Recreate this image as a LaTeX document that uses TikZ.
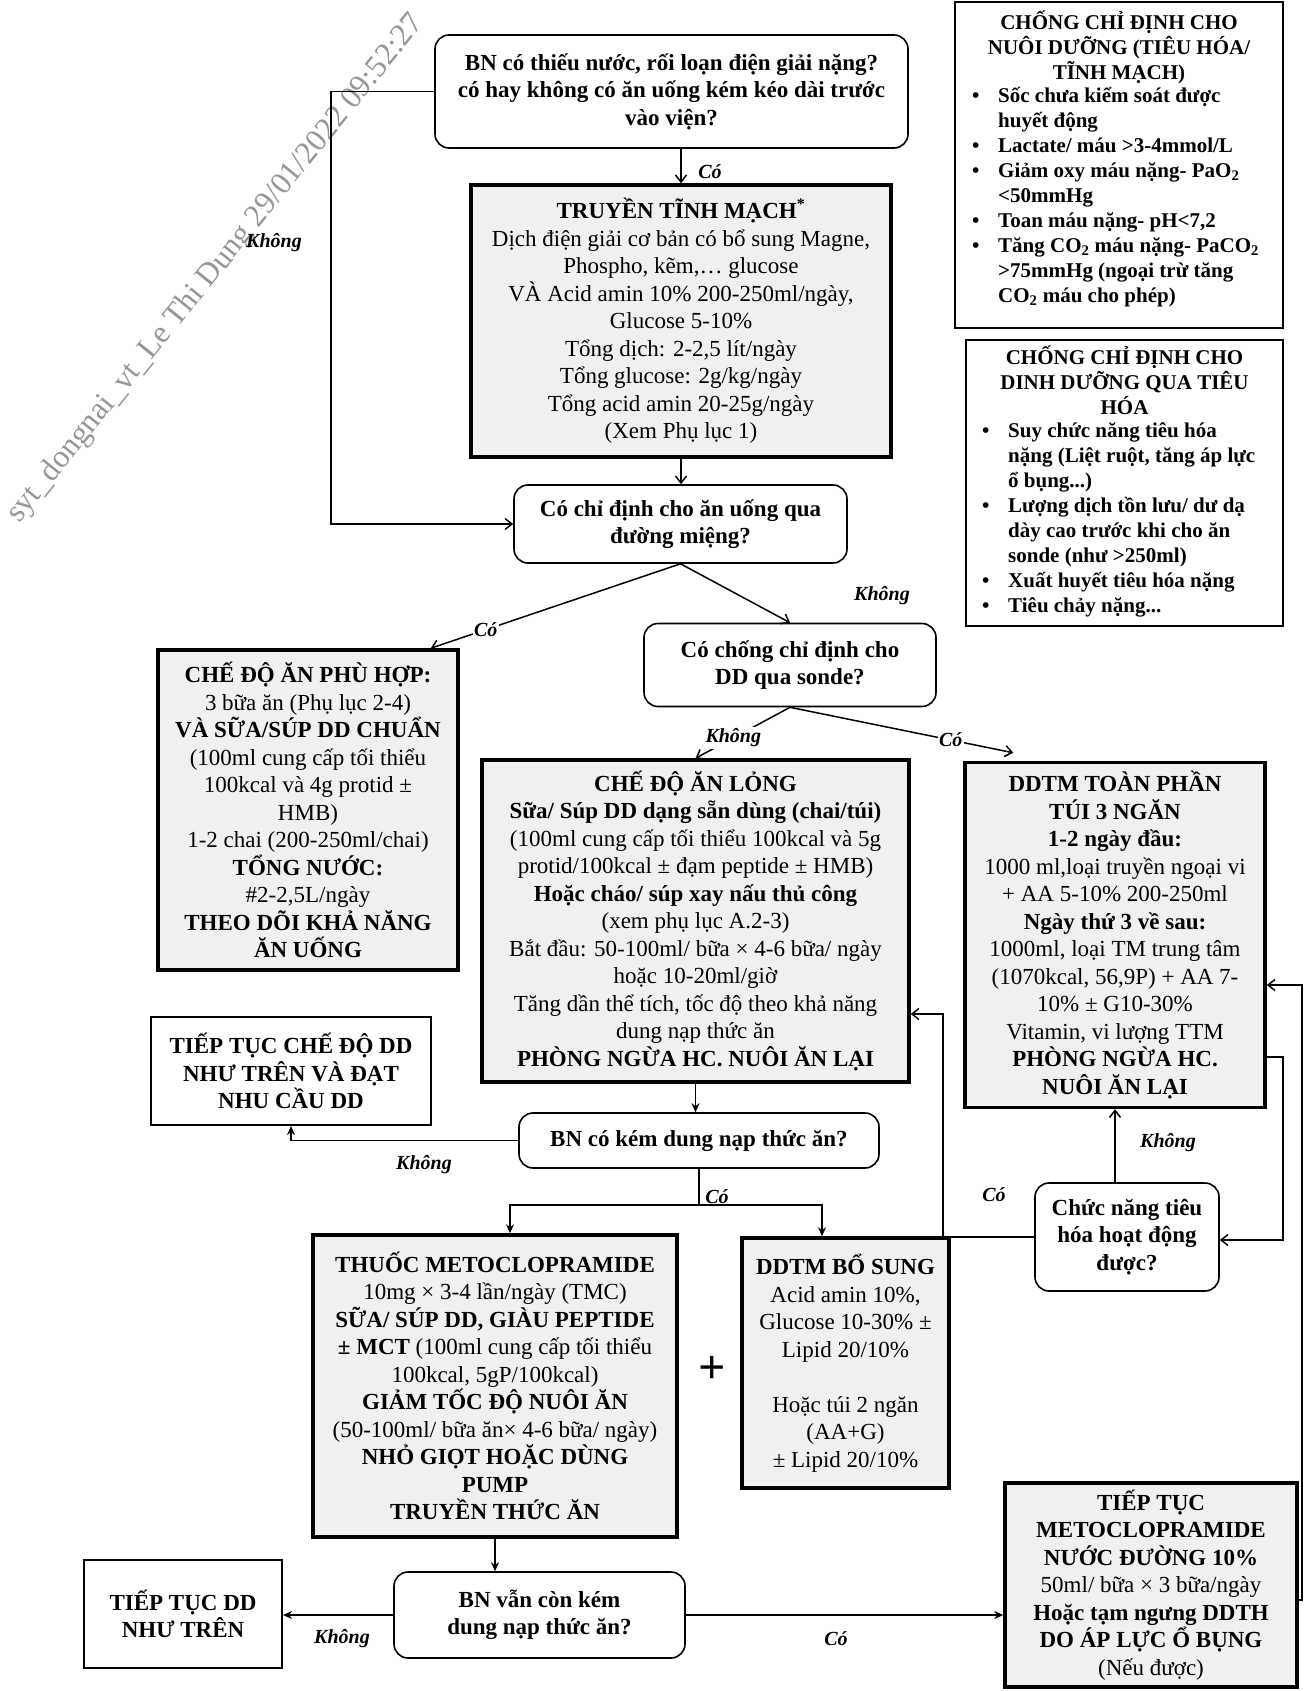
\documentclass[tikz,border=0pt]{standalone}
\usepackage{fontspec}
\setmainfont{Liberation Serif}
\usetikzlibrary{arrows.meta,calc}
\definecolor{boxgray}{RGB}{240,240,240}
\definecolor{wmgray}{RGB}{150,150,150}
\newcommand{\bl}{\makebox[26pt][l]{\textbullet}}
\newcommand{\ind}{\hspace*{26pt}}
\tikzset{
  base/.style={align=center, inner sep=0pt, font=\fontsize{23}{27.5}\selectfont},
  rbox/.style={base, draw, line width=1.6pt, rounded corners=14pt, fill=white, font=\fontsize{23}{27.5}\selectfont\bfseries},
  gbox/.style={base, draw, line width=3.5pt, fill=boxgray},
  wbox/.style={base, draw, line width=2pt, fill=white, font=\fontsize{23}{27.5}\selectfont\bfseries},
  sbox/.style={draw, line width=2pt, inner sep=0pt, fill=white},
  stext/.style={inner sep=0pt, font=\fontsize{21}{25}\selectfont\bfseries},
  lbl/.style={inner sep=1.5pt, font=\fontsize{20}{20}\selectfont\bfseries\itshape},
  arr/.style={line width=1.5pt, -{Straight Barb[length=7pt,width=11pt,line width=1.5pt]}},
  arrf/.style={line width=1.5pt, -{Stealth[length=9pt,width=8pt]}},
  ln/.style={line width=1.5pt},
}
\begin{document}
\begin{tikzpicture}[x=1pt,y=-1pt]
\fill[white] (0,0) rectangle (1307,1691);
\useasboundingbox (0,0) rectangle (1307,1691);

% watermark
\node[rotate=51, text=wmgray, inner sep=0pt, font=\fontsize{31.5}{31.5}\selectfont] (wm) at (216,269) {syt\_dongnai\_vt\_Le Thi Dung 29/01/2022 09:52:27};

% boxes
\node[rbox, minimum width=473pt, minimum height=113pt] (A) at (671.5,91.5)
 {BN có thiếu nước, rối loạn điện giải nặng?\\có hay không có ăn uống kém kéo dài trước\\vào viện?};

\node[gbox, minimum width=420pt, minimum height=272pt] (B) at (681,321)
 {\textbf{TRUYỀN TĨNH MẠCH}\textsuperscript{\textbf{*}}\\
  Dịch điện giải cơ bản có bổ sung Magne,\\
  Phospho, kẽm,… glucose\\
  VÀ Acid amin 10\% 200-250ml/ngày,\\
  Glucose 5-10\%\\
  Tổng dịch: 2-2,5 lít/ngày\\
  Tổng glucose: 2g/kg/ngày\\
  Tổng acid amin 20-25g/ngày\\
  (Xem Phụ lục 1)};

\node[rbox, minimum width=333pt, minimum height=78pt] (C) at (680.5,524)
 {Có chỉ định cho ăn uống qua\\đường miệng?};

\node[gbox, minimum width=300pt, minimum height=320pt] (D) at (308,810)
 {\textbf{CHẾ ĐỘ ĂN PHÙ HỢP:}\\
  3 bữa ăn (Phụ lục 2-4)\\
  \textbf{VÀ SỮA/SÚP DD CHUẨN}\\
  (100ml cung cấp tối thiểu\\
  100kcal và 4g protid ±\\
  HMB)\\
  1-2 chai (200-250ml/chai)\\
  \textbf{TỔNG NƯỚC:}\\
  \#2-2,5L/ngày\\
  \textbf{THEO DÕI KHẢ NĂNG}\\
  \textbf{ĂN UỐNG}};

\node[rbox, minimum width=292pt, minimum height=83pt] (E) at (790,665)
 {Có chống chỉ định cho\\DD qua sonde?};

\node[gbox, minimum width=427pt, minimum height=322pt] (F) at (695.5,921)
 {\textbf{CHẾ ĐỘ ĂN LỎNG}\\
  \textbf{Sữa/ Súp DD dạng sẵn dùng (chai/túi)}\\
  (100ml cung cấp tối thiểu 100kcal và 5g\\
  protid/100kcal ± đạm peptide ± HMB)\\
  \textbf{Hoặc cháo/ súp xay nấu thủ công}\\
  (xem phụ lục A.2-3)\\
  Bắt đầu: 50-100ml/ bữa × 4-6 bữa/ ngày\\
  hoặc 10-20ml/giờ\\
  Tăng dần thể tích, tốc độ theo khả năng\\
  dung nạp thức ăn\\
  \textbf{PHÒNG NGỪA HC. NUÔI ĂN LẠI}};

\node[gbox, minimum width=300pt, minimum height=345pt] (G) at (1115,935)
 {\textbf{DDTM TOÀN PHẦN}\\
  \textbf{TÚI 3 NGĂN}\\
  \textbf{1-2 ngày đầu:}\\
  1000 ml,loại truyền ngoại vi\\
  + AA 5-10\% 200-250ml\\
  \textbf{Ngày thứ 3 về sau:}\\
  1000ml, loại TM trung tâm\\
  (1070kcal, 56,9P) + AA 7-\\
  10\% ± G10-30\%\\
  Vitamin, vi lượng TTM\\
  \textbf{PHÒNG NGỪA HC.}\\
  \textbf{NUÔI ĂN LẠI}};

\node[wbox, minimum width=280pt, minimum height=108pt] (H) at (291,1071)
 {TIẾP TỤC CHẾ ĐỘ DD\\NHƯ TRÊN VÀ ĐẠT\\NHU CẦU DD};

\node[rbox, minimum width=360pt, minimum height=55pt] (I) at (699,1140.5)
 {BN có kém dung nạp thức ăn?};

\node[gbox, minimum width=364pt, minimum height=302pt] (J) at (495,1386)
 {\textbf{THUỐC METOCLOPRAMIDE}\\
  10mg × 3-4 lần/ngày (TMC)\\
  \textbf{SỮA/ SÚP DD, GIÀU PEPTIDE}\\
  \textbf{± MCT} (100ml cung cấp tối thiểu\\
  100kcal, 5gP/100kcal)\\
  \textbf{GIẢM TỐC ĐỘ NUÔI ĂN}\\
  (50-100ml/ bữa ăn× 4-6 bữa/ ngày)\\
  \textbf{NHỎ GIỌT HOẶC DÙNG}\\
  \textbf{PUMP}\\
  \textbf{TRUYỀN THỨC ĂN}};

\node[inner sep=0pt, font=\fontsize{48}{48}\selectfont\bfseries] (plus) at (712,1370) {+};

\node[gbox, minimum width=207pt, minimum height=250pt] (K) at (845.5,1363)
 {\textbf{DDTM BỔ SUNG}\\
  Acid amin 10\%,\\
  Glucose 10-30\% ±\\
  Lipid 20/10\%\\
  \strut\\
  Hoặc túi 2 ngăn\\
  (AA+G)\\
  ± Lipid 20/10\%};

\node[rbox, minimum width=184pt, minimum height=108pt] (L) at (1127,1237)
 {Chức năng tiêu\\hóa hoạt động\\được?};

\node[gbox, minimum width=292pt, minimum height=204pt] (M) at (1151,1585)
 {\textbf{TIẾP TỤC}\\
  \textbf{METOCLOPRAMIDE}\\
  \textbf{NƯỚC ĐƯỜNG 10\%}\\
  50ml/ bữa × 3 bữa/ngày\\
  \textbf{Hoặc tạm ngưng DDTH}\\
  \textbf{DO ÁP LỰC Ổ BỤNG}\\
  (Nếu được)};

\node[rbox, minimum width=291pt, minimum height=86pt] (N) at (539.5,1615)
 {BN vẫn còn kém\\dung nạp thức ăn?};

\node[wbox, minimum width=198pt, minimum height=108pt] (O) at (183,1614)
 {TIẾP TỤC DD\\NHƯ TRÊN};

% right-hand information boxes
\node[sbox, minimum width=328pt, minimum height=326pt] (P) at (1119,165) {};
\node[stext, align=center, anchor=north] (Pt) at (1119,11)
 {CHỐNG CHỈ ĐỊNH CHO\\NUÔI DƯỠNG (TIÊU HÓA/\\TĨNH MẠCH)};
\node[stext, align=left, anchor=north west] (Pb) at (972,87)
 {\bl Sốc chưa kiểm soát được\\
  \ind huyết động\\
  \bl Lactate/ máu >3-4mmol/L\\
  \bl Giảm oxy máu nặng- PaO\textsubscript{2}\\
  \ind <50mmHg\\
  \bl Toan máu nặng- pH<7,2\\
  \bl Tăng CO\textsubscript{2} máu nặng- PaCO\textsubscript{2}\\
  \ind >75mmHg (ngoại trừ tăng\\
  \ind CO\textsubscript{2} máu cho phép)};

\node[sbox, minimum width=317pt, minimum height=286pt] (Q) at (1124.5,483) {};
\node[stext, align=center, anchor=north] (Qt) at (1124.5,346)
 {CHỐNG CHỈ ĐỊNH CHO\\DINH DƯỠNG QUA TIÊU\\HÓA};
\node[stext, align=left, anchor=north west] (Qb) at (982,422)
 {\bl Suy chức năng tiêu hóa\\
  \ind nặng (Liệt ruột, tăng áp lực\\
  \ind ổ bụng...)\\
  \bl Lượng dịch tồn lưu/ dư dạ\\
  \ind dày cao trước khi cho ăn\\
  \ind sonde (như >250ml)\\
  \bl Xuất huyết tiêu hóa nặng\\
  \bl Tiêu chảy nặng...};

% connectors
\draw[arr] (B.north |- A.south) -- (B.north);
\node[lbl] (lAB) at (710,172) {Có};

\draw[arr] (B.south) -- (B.south |- C.north);

\coordinate (kL) at (331,0);
\draw[arr] (A.west) -- (A.west -| kL) -- (C.west -| kL) -- (C.west);
\node[lbl] (lAC) at (274,243) {Không};

\coordinate (dIn) at ($(D.north east)+(-29,0)$);
\draw[arr] (C.south) -- node[lbl, fill=white, pos=0.78] (lCD) {Có} (dIn);

\draw[arr] (C.south) -- (E.north);
\node[lbl] (lCE) at (882,596) {Không};

\draw[arr] (E.south) -- node[lbl, fill=white, pos=0.6] (lEF) {Không} (F.north);
\coordinate (gIn) at ($(G.north west)+(50,-8)$);
\draw[arr] (E.south) -- node[lbl, fill=white, pos=0.72] (lEG) {Có} (gIn);

\draw[arrf] (F.south) -- (F.south |- I.north);
\draw[arrf] (I.west) -| (H.south);
\node[lbl] (lIH) at (424,1165) {Không};

\coordinate (br) at (699,1205);
\coordinate (bj) at (510,1205);
\coordinate (bk) at (822,1205);
\draw[ln] (I.south) -- (br);
\draw[arrf] (br) -- (bj) -- (bj |- J.north);
\draw[arrf] (br) -- (bk) -- (bk |- K.north);
\node[lbl] (lIJ) at (717,1197) {Có};

\draw[arrf] (J.south) -- (J.south |- N.north);
\draw[arrf] (N.west) -- (N.west -| O.east);
\node[lbl] (lNO) at (342,1639) {Không};
\draw[arrf] (N.east) -- (N.east -| M.west);
\node[lbl] (lNM) at (836,1639) {Có};

\draw[arr] (G.south |- L.north) -- (G.south);
\node[lbl] (lLG) at (1168,1143) {Không};

\coordinate (kF) at (943,1014);
\draw[arr] (L.west) -- (L.west -| kF) -- (kF) -- (kF -| F.east);
\node[lbl] (lLF) at (994,1195) {Có};

\coordinate (kG1) at (1283,1057);
\coordinate (kG2) at (1283,1240);
\draw[arr] (kG1 -| G.east) -- (kG1) -- (kG2) -- (kG2 -| L.east);

\coordinate (kM1) at (1302,1600);
\coordinate (kM2) at (1302,985);
\draw[arr] (kM1 -| M.east) -- (kM1) -- (kM2) -- (kM2 -| G.east);
\end{tikzpicture}
\end{document}
